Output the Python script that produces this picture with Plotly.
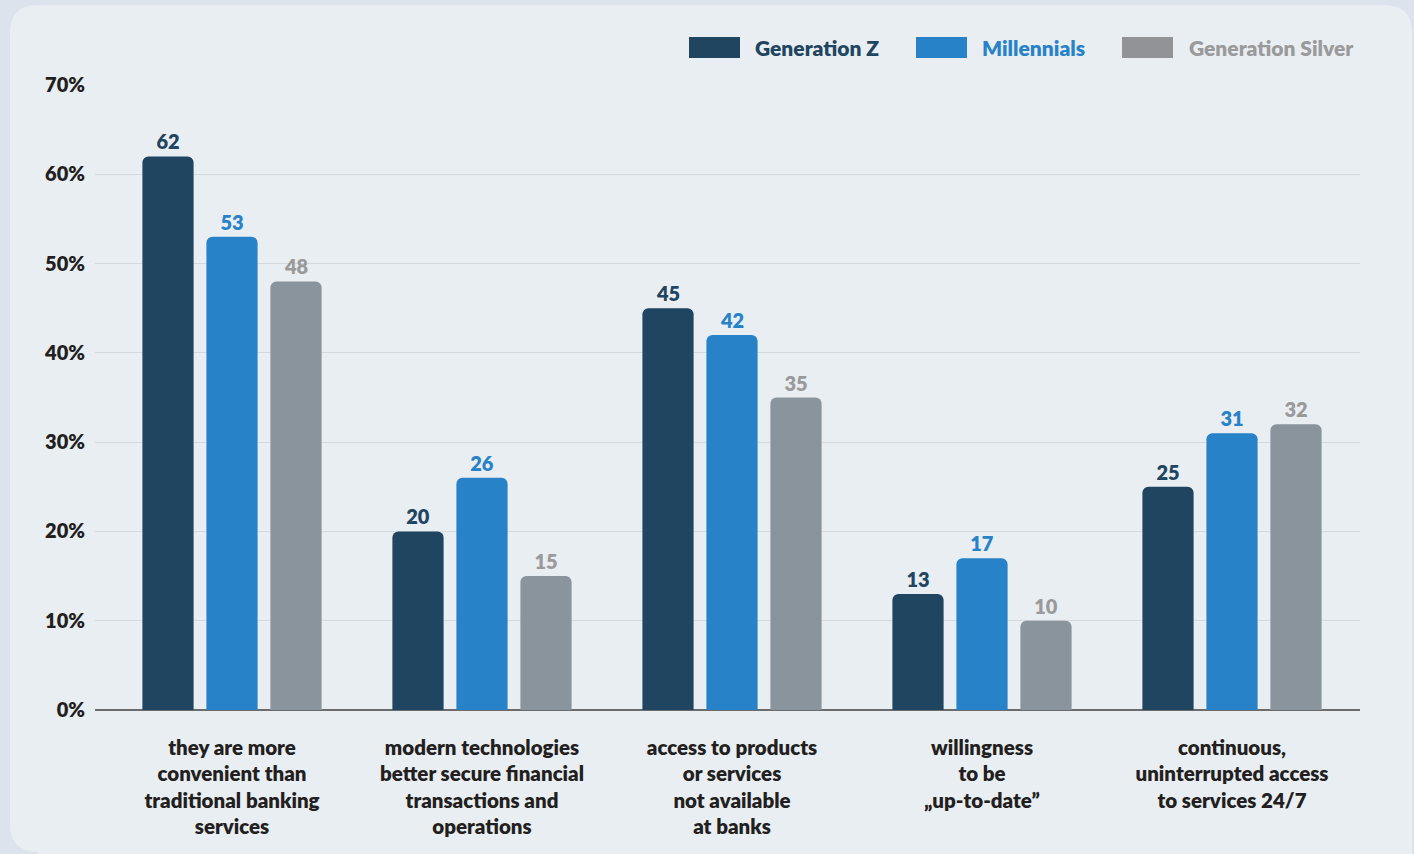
import plotly.graph_objects as go

# Survey reasons, one group per category
categories = [
    "they are more<br>convenient than<br>traditional banking<br>services",
    "modern technologies<br>better secure financial<br>transactions and<br>operations",
    "access to products<br>or services<br>not available<br>at banks",
    "willingness<br>to be<br>„up-to-date”",
    "continuous,<br>uninterrupted access<br>to services 24/7",
]
series_names = ["Generation Z", "Millennials", "Generation Silver"]
gen_z = [62, 20, 45, 13, 25]
millennials = [53, 26, 42, 17, 31]
gen_silver = [48, 15, 35, 10, 32]
y_ticks = [0, 10, 20, 30, 40, 50, 60, 70]
y_tick_labels = ["0%", "10%", "20%", "30%", "40%", "50%", "60%", "70%"]

bar_colors = ["#1f4560", "#2882c8", "#89949d"]
text_colors = ["#1f4560", "#2882c8", "#9a9a9a"]
legend_box_colors = ["#1f4560", "#2882c8", "#929396"]
FONT = "Lato"
WEIGHT = 800

W, H = 1414, 854
PL, PR, PT, PB = 95, 1360, 85, 710  # plot area in pixels


def px(x):
    return (x - PL) / (PR - PL)


def py(y):
    return (PB - y) / (PB - PT)


fig = go.Figure()
x_idx = list(range(len(categories)))
for name, vals, bc, tc in zip(series_names, [gen_z, millennials, gen_silver], bar_colors, text_colors):
    fig.add_trace(go.Bar(
        x=x_idx, y=vals, name=name,
        marker=dict(color=bc, line=dict(width=0)),
        text=[str(v) for v in vals], texttemplate="%{text}", textposition="outside",
        textfont=dict(family=FONT, size=20, color=tc, weight=WEIGHT),
        cliponaxis=False, showlegend=False,
    ))

# card background with rounded corners
r = 28
cl, ct, cr, cb = 10, 5, 1412, 852
path = (
    f"M {px(cl)},{py(ct + r)} "
    f"Q {px(cl)},{py(ct)} {px(cl + r)},{py(ct)} "
    f"L {px(cr - r)},{py(ct)} "
    f"Q {px(cr)},{py(ct)} {px(cr)},{py(ct + r)} "
    f"L {px(cr)},{py(H + 5)} "
    f"L {px(cl + r)},{py(H + 5)} "
    f"L {px(cl + r)},{py(cb)} "
    f"Q {px(cl)},{py(cb)} {px(cl)},{py(cb - r)} Z"
)
shapes = [dict(type="path", path=path, xref="paper", yref="paper",
               fillcolor="#e9eef3", line=dict(width=0), layer="below")]

# legend drawn as boxes + labels
annotations = []
legend_boxes = [(689, 740, 753), (916, 967, 980), (1122, 1173, 1187)]
for (x0, x1, tx), name, bc, tc in zip(legend_boxes, series_names, legend_box_colors, text_colors):
    shapes.append(dict(type="rect", xref="paper", yref="paper",
                       x0=px(x0), x1=px(x1), y0=py(58), y1=py(37),
                       fillcolor=bc, line=dict(width=0)))
    annotations.append(dict(x=px(tx), y=py(47.5), xref="paper", yref="paper",
                            text=name, showarrow=False, xanchor="left", yanchor="middle",
                            font=dict(family=FONT, size=21, color=tc, weight=WEIGHT)))

fig.update_layout(
    width=W, height=H,
    margin=dict(l=PL, r=W - PR, t=PT, b=H - PB, pad=0),
    paper_bgcolor="#dde3ec",
    plot_bgcolor="rgba(0,0,0,0)",
    barmode="group",
    bargap=0.232,
    bargroupgap=0.2,
    barcornerradius=6,
    shapes=shapes,
    annotations=annotations,
    showlegend=False,
    font=dict(family=FONT, color="#231f20"),
    xaxis=dict(
        tickmode="array", tickvals=x_idx, ticktext=categories,
        range=[-(232 - PL) / 250, -(232 - PL) / 250 + (PR - PL) / 250],
        showgrid=False, zeroline=False, showline=False, ticks="",
        ticklabelstandoff=23,
        tickfont=dict(family=FONT, size=20.5, color="#231f20", weight=WEIGHT),
    ),
    yaxis=dict(
        range=[0, 70], tickmode="array", tickvals=y_ticks, ticktext=y_tick_labels,
        showgrid=True, gridcolor="#d6dadf", gridwidth=1,
        zeroline=True, zerolinecolor="#6b6b6b", zerolinewidth=2,
        showline=False, ticks="", ticklabelstandoff=9,
        tickfont=dict(family=FONT, size=20, color="#231f20", weight=WEIGHT),
    ),
)

fig.write_html("out.html")
